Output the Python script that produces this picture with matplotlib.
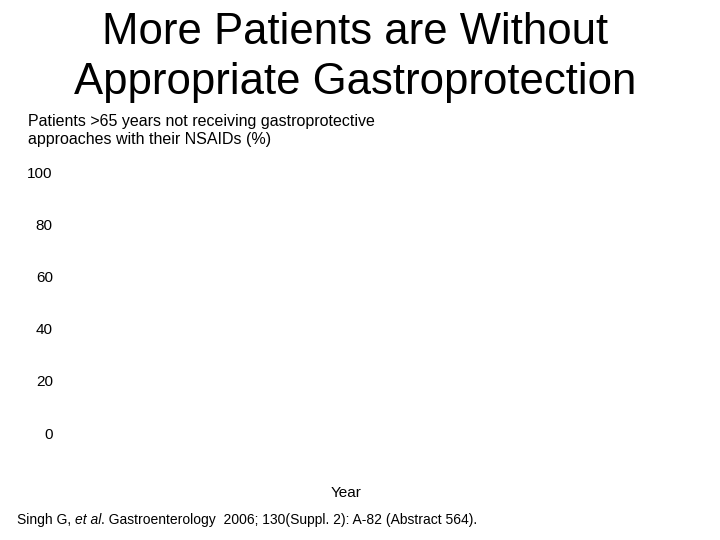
import matplotlib.pyplot as plt

plt.rcParams['font.family'] = ['Liberation Sans', 'DejaVu Sans']

# the chart in the reference shows no plotted data, only the empty frame
years = []
values = []
y_ticks = [0, 20, 40, 60, 80, 100]

title = "More Patients are Without\nAppropriate Gastroprotection"
subtitle = "Patients >65 years not receiving gastroprotective\napproaches with their NSAIDs (%)"

fig = plt.figure(figsize=(7.2, 5.4), dpi=100)
ax = fig.add_axes([0.085, 0.198, 0.79, 0.483])

ax.bar(years, values, color="#3060a0")
ax.set_ylim(0, 100)
ax.set_yticks(y_ticks)
ax.set_yticklabels([str(t) for t in y_ticks], fontsize=11)
ax.set_xticks([])
ax.tick_params(axis='y', length=0, pad=6)
for s in ax.spines.values():
    s.set_visible(False)
ax.set_xlabel("Year", fontsize=11, labelpad=38)

fig.text(0.493, 0.978, title, ha='center', va='top', fontsize=31.5, linespacing=1.27)
fig.text(0.039, 0.788, subtitle, ha='left', va='top', fontsize=11.5, linespacing=1.25)

# citation with italic "et al"
yc = 0.03
t1 = fig.text(0.023, yc, "Singh G, ", ha='left', va='baseline', fontsize=10)
t2 = fig.text(0, 0, "et al", fontsize=10, style='italic', ha='left', va='baseline')
t3 = fig.text(0, 0, ". Gastroenterology  2006; 130(Suppl. 2): A-82 (Abstract 564).",
              fontsize=10, ha='left', va='baseline')
fig.canvas.draw()
r = fig.canvas.get_renderer()
x1 = t1.get_window_extent(r).x1 / fig.bbox.width
t2.set_position((x1, yc))
fig.canvas.draw()
x2 = t2.get_window_extent(r).x1 / fig.bbox.width
t3.set_position((x2, yc))

fig.savefig("out.png", dpi=100)
